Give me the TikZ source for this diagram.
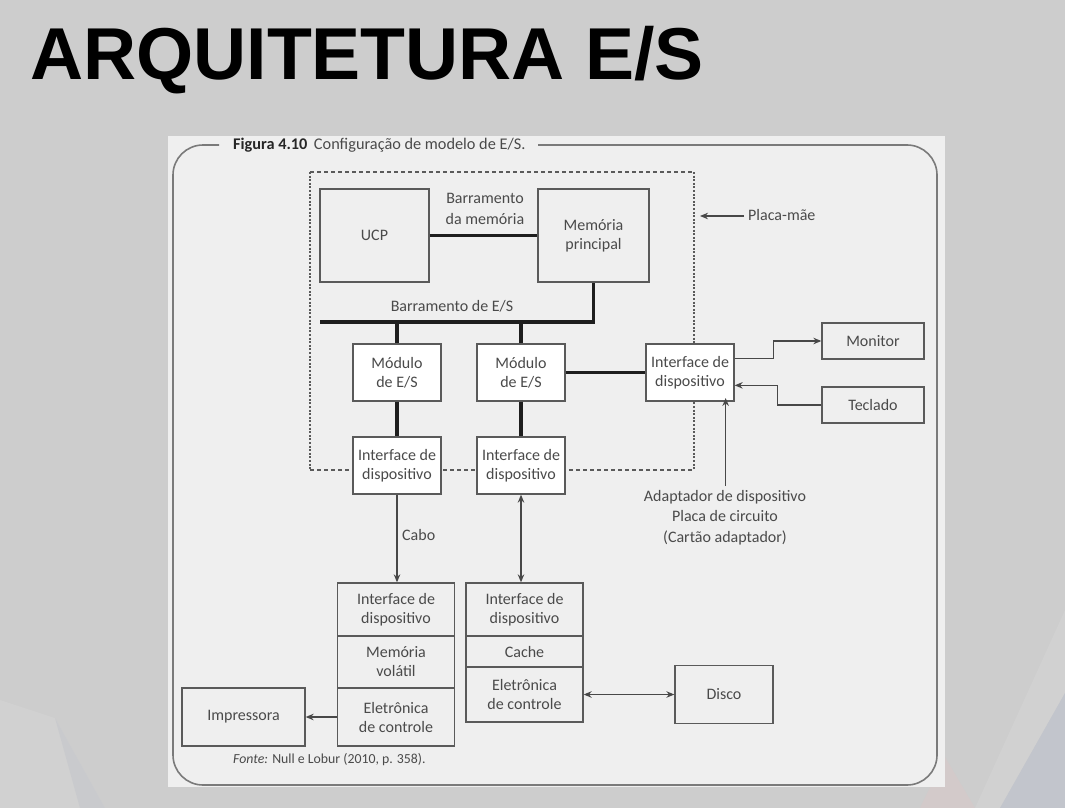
\documentclass[tikz,border=0pt]{standalone}
\usepackage{fontspec}
\setmainfont{Carlito}
\newfontfamily\titlefont{Liberation Sans}
\usetikzlibrary{arrows.meta}

\definecolor{bgray}{HTML}{CDCDCD}
\definecolor{facetlight}{HTML}{D1D1D1}
\definecolor{facetblue}{HTML}{C2C5CC}
\definecolor{facetpink}{HTML}{D3CACA}
\definecolor{panel}{HTML}{EFEFEF}
\definecolor{edge}{HTML}{5A5A5A}
\definecolor{txt}{HTML}{4A4A4A}
\definecolor{busc}{HTML}{1E1E1E}
\definecolor{frame}{HTML}{7A7A7A}

\tikzset{
  box/.style={draw=edge, line width=1.3pt, fill=panel, text=txt, align=center,
    inner sep=0pt, font=\fontsize{16}{19}\selectfont},
  wbox/.style={box, fill=white},
  bus/.style={draw=busc, line width=3.6pt},
  conn/.style={draw=edge!80!black, line width=1.3pt},
  arr/.style={conn, -{Stealth[length=8pt,width=6.5pt]}},
  darr/.style={conn, {Stealth[length=8pt,width=6.5pt]}-{Stealth[length=8pt,width=6.5pt]}},
  lbl/.style={text=txt, align=center, inner sep=0pt, font=\fontsize{16}{20.5}\selectfont},
}

\begin{document}
\begin{tikzpicture}[x=1pt,y=-1pt]
\useasboundingbox (0,0) rectangle (1065,808);

% slide background with its faint corner facets
\fill[bgray] (0,0) rectangle (1065,808);
\fill[facetlight] (0,700) -- (55,718) -- (105,808) -- (0,808) -- cycle;
\fill[facetblue!40!bgray] (55,718) -- (105,808) -- (80,808) -- cycle;
\fill[facetpink] (945,757) -- (975,808) -- (920,808) -- cycle;
\fill[facetlight] (1065,610) -- (1065,693) -- (1000,808) -- (975,808) -- cycle;
\fill[facetblue] (1065,693) -- (1065,808) -- (1000,808) -- cycle;

% slide title
\node[anchor=base west, inner sep=0pt, font=\titlefont\bfseries\fontsize{73.5}{80}\selectfont]
  (title) at (30,80) {ARQUITETURA E/S};

% figure panel and its rounded frame
\fill[panel] (168,136) rectangle (945,787);
\draw[frame, line width=1.6pt, rounded corners=30pt]
  (219,145) -- (173,145) -- (173,785) -- (937,785) -- (937,145) -- (538,145);
\node[anchor=west, inner sep=0pt, text=txt, font=\fontsize{16.3}{19}\selectfont]
  (caption) at (233,145) {\textbf{\color{black!85}Figura 4.10}\hspace{0.4em}Configuração de modelo de E/S.};

% motherboard outline
\draw[edge, line width=1.5pt, dash pattern=on 4pt off 3pt] (310,172) -- (694,172);
\draw[edge, line width=1.5pt, dash pattern=on 4pt off 3pt] (310,470) -- (694,470);
\draw[edge, line width=1.8pt, dash pattern=on 2pt off 1.6pt] (310,172) -- (310,470);
\draw[edge, line width=1.8pt, dash pattern=on 2pt off 1.6pt] (694,172) -- (694,470);

% processor and main memory
\node[box, minimum width=109pt, minimum height=93pt] (ucp) at (374.5,235.5) {UCP};
\node[box, minimum width=111pt, minimum height=93pt] (mem) at (593.5,235.5) {Memória\\principal};
\node[lbl] (mbuslbl) at (485,209) {Barramento\\da memória};

% I/O modules and interfaces
\node[wbox, minimum width=88pt, minimum height=57pt] (mod1) at (397,372.5) {Módulo\\de E/S};
\node[wbox, minimum width=88pt, minimum height=57pt] (mod2) at (521,372.5) {Módulo\\de E/S};
\node[wbox, minimum width=88pt, minimum height=57pt] (if1) at (397,465.5) {Interface de\\dispositivo};
\node[wbox, minimum width=88pt, minimum height=57pt] (if2) at (521,465.5) {Interface de\\dispositivo};
\node[wbox, minimum width=88pt, minimum height=57pt] (ifr) at (690,372.5) {Interface de\\dispositivo};

% external devices
\node[box, minimum width=102pt, minimum height=36pt] (mon) at (873,341) {Monitor};
\node[box, minimum width=102pt, minimum height=36pt] (ted) at (873,405) {Teclado};

% printer controller stack
\node[box, minimum width=117pt, minimum height=53pt] (pif) at (396,609.5) {Interface de\\dispositivo};
\node[box, minimum width=117pt, minimum height=52pt] (pmem) at (396,662) {Memória\\volátil};
\node[box, minimum width=117pt, minimum height=58pt] (pel) at (396,717) {Eletrônica\\de controle};
\node[box, minimum width=123pt, minimum height=58pt] (imp) at (243.5,717) {Impressora};

% disk controller stack
\node[box, minimum width=117pt, minimum height=53pt] (dif) at (524.5,609.5) {Interface de\\dispositivo};
\node[box, minimum width=117pt, minimum height=31pt] (dcache) at (524.5,651.5) {Cache};
\node[box, minimum width=117pt, minimum height=55pt] (del) at (524.5,694.5) {Eletrônica\\de controle};
\node[box, minimum width=98pt, minimum height=58pt] (disco) at (724,694.5) {Disco};

% buses
\coordinate (busl) at (320,322);
\node[lbl] (ioslbl) at (452,306) {Barramento de E/S};
\draw[bus] (ucp.east) -- (mem.west);
\draw[bus] (busl) -- (busl -| mem.south) -- (mem.south);
\draw[bus] (mod1.north) -- (mod1.north |- busl);
\draw[bus] (mod2.north) -- (mod2.north |- busl);
\draw[bus] (mod1.south) -- (if1.north);
\draw[bus] (mod2.south) -- (if2.north);
\draw[bus] (mod2.east) -- (ifr.west);

% device links
\draw[arr] ([yshift=-15pt]ifr.north east) -- ++(39,0) |- (mon.west);
\draw[arr] (ted.west) -- ++(-44,0) |- ([yshift=-42pt]ifr.north east);

\node[lbl, anchor=north] (adapt) at (725,490) {Adaptador de dispositivo\\Placa de circuito\\(Cartão adaptador)};
\draw[arr] ([yshift=4pt]adapt.north -| ifr.south east) ++(-9,0) -- ++(0,-88);

\node[lbl, anchor=west] (placa) at (748,215) {Placa-mãe};
\coordinate (mbtip) at (700,216);
\draw[arr] (placa.west) ++(-4,1) -- (mbtip);

\draw[arr] (if1.south) -- (if1.south |- pif.north);
\node[lbl, anchor=west] (cabo) at (402,535) {Cabo};
\draw[darr] (if2.south) -- (if2.south |- dif.north);
\draw[arr] (pel.west) -- (imp.east);
\draw[darr] (del.east) -- (disco.west);

% source line
\node[anchor=west, inner sep=0pt, text=txt, font=\fontsize{13.8}{16}\selectfont]
  (fonte) at (233,760) {\textit{Fonte:} Null e Lobur (2010, p. 358).};
\end{tikzpicture}
\end{document}
